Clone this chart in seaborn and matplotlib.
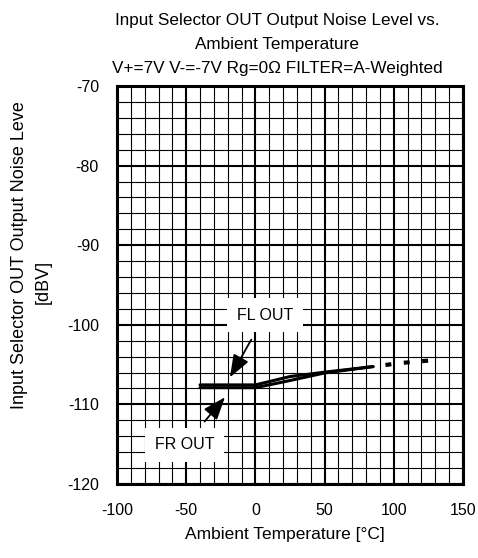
import matplotlib
matplotlib.use("Agg")
import matplotlib.pyplot as plt
import seaborn as sns
import numpy as np
import pandas as pd

# data
temps = [-40, -20, 0, 25, 50, 85]
fl_out = [-107.55, -107.55, -107.55, -106.5, -105.95, -105.25]
fr_out = [-107.9, -107.9, -107.9, -107.0, -106.05, -105.25]
ext_temps = [85, 105, 125]
ext_vals = [-105.25, -104.8, -104.5]

x_ticks = [-100, -50, 0, 50, 100, 150]
y_ticks = [-70, -80, -90, -100, -110, -120]

sns.set_theme(style="white")
plt.rcParams['font.family'] = ['Liberation Sans', 'DejaVu Sans']
plt.rcParams['text.color'] = 'black'
plt.rcParams['axes.unicode_minus'] = False

fig = plt.figure(figsize=(4.78, 5.58), dpi=100)
W, H = 478, 558
ax = fig.add_axes([117 / W, 1 - 484 / H, (463 - 117) / W, (484 - 86) / H])

df = pd.DataFrame({"t": temps * 2, "v": fl_out + fr_out,
                   "s": ["FL OUT"] * len(temps) + ["FR OUT"] * len(temps)})
sns.lineplot(data=df, x="t", y="v", units="s", estimator=None, ax=ax,
             color="black", lw=2.2, legend=False, zorder=5)
sns.lineplot(x=ext_temps, y=ext_vals, ax=ax, color="black", lw=3.0,
             legend=False, zorder=5)
ext_line = ax.lines[-1]
ext_line.set_linestyle((1.43, (1.43, 3.0)))
ext_line.set_dash_capstyle('butt')
for ln in ax.lines[:-1]:
    ln.set_solid_capstyle('round')

ax.set_xlim(-100, 150)
ax.set_ylim(-120, -70)
ax.set_xticks(x_ticks)
ax.set_yticks(y_ticks)
ax.set_xticks(np.arange(-100, 151, 10), minor=True)
ax.set_yticks(np.arange(-120, -69, 2), minor=True)
ax.grid(which="major", color="black", lw=1.5, zorder=1)
ax.grid(which="minor", color="black", lw=0.8, zorder=1)
ax.set_axisbelow(True)
ax.tick_params(which="both", length=0)
ax.tick_params(axis="x", pad=14, labelsize=11.5, colors="black")
ax.tick_params(axis="y", pad=13, labelsize=11.5, colors="black")
for s in ax.spines.values():
    s.set_visible(True)
    s.set_color("black")
    s.set_linewidth(2.2)
ax.set_xlabel("")
ax.set_ylabel("")

# annotations
ax.annotate("FL OUT", xy=(-18.4, -106.6), xytext=(7, -98.8),
            ha="center", va="center", fontsize=11.5, color="black",
            bbox=dict(boxstyle="square,pad=0.6", fc="white", ec="none"),
            arrowprops=dict(arrowstyle="-|>,head_width=0.45,head_length=1.2",
                            color="black", lw=1.3, shrinkA=6, shrinkB=0),
            zorder=6)
ax.annotate("FR OUT", xy=(-22, -109.1), xytext=(-51, -115.1),
            ha="center", va="center", fontsize=11.5, color="black",
            bbox=dict(boxstyle="square,pad=0.6", fc="white", ec="none"),
            arrowprops=dict(arrowstyle="-|>,head_width=0.45,head_length=1.2",
                            color="black", lw=1.3, shrinkA=6, shrinkB=0),
            zorder=6)

fig.text(277 / W, 1 - 20 / H, "Input Selector OUT Output Noise Level vs.",
         ha="center", va="center", fontsize=12.3)
fig.text(277 / W, 1 - 44 / H, "Ambient Temperature",
         ha="center", va="center", fontsize=12.3)
fig.text(277 / W, 1 - 68 / H, "V+=7V V-=-7V Rg=0Ω FILTER=A-Weighted",
         ha="center", va="center", fontsize=12.3)
fig.text(285 / W, 1 - 535 / H, "Ambient Temperature [°C]",
         ha="center", va="center", fontsize=12.5)
fig.text(20 / W, 1 - 255 / H, "Input Selector OUT Output Noise Leve",
         ha="center", va="center", rotation=90, fontsize=13)
fig.text(43 / W, 1 - 282 / H, "[dBV]",
         ha="center", va="center", rotation=90, fontsize=13)

fig.savefig("out.png", dpi=100)
